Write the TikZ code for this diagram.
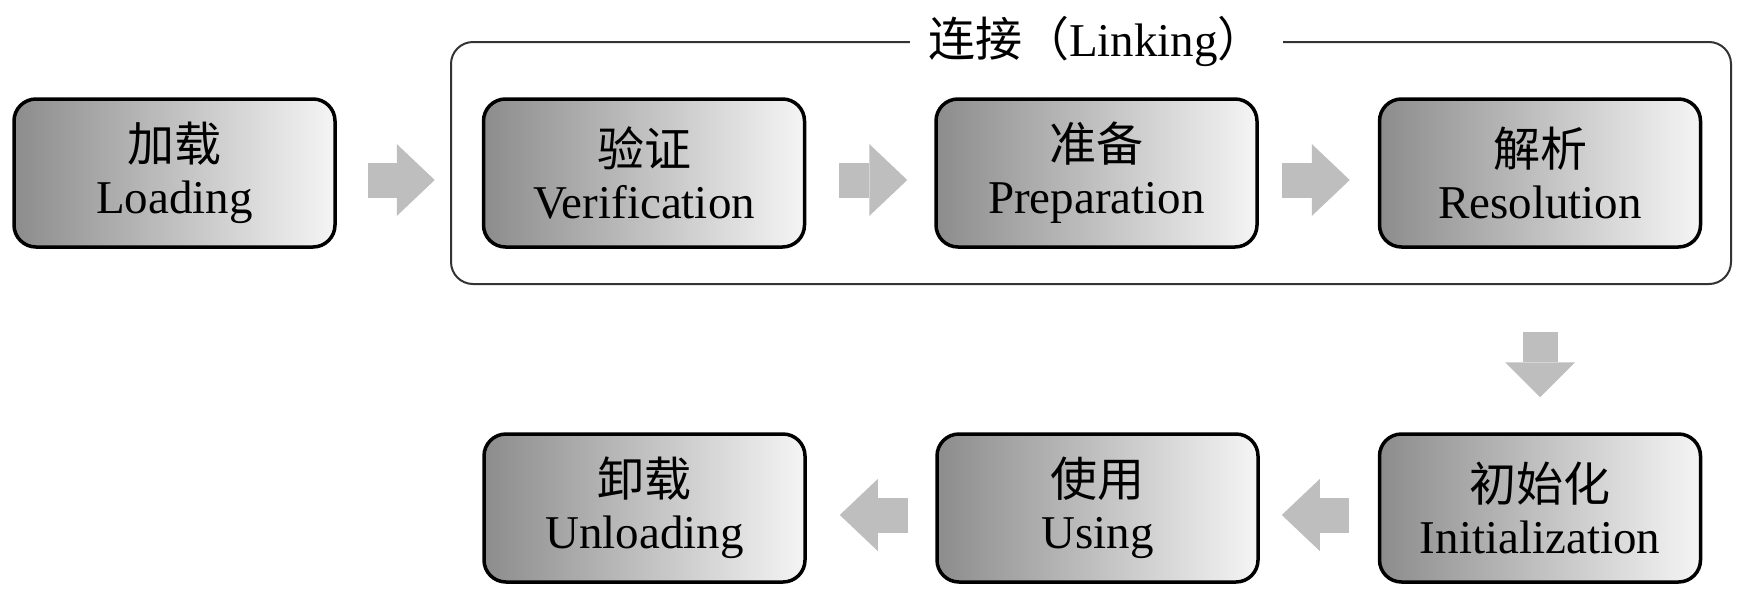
\documentclass[tikz,border=0pt]{standalone}
\usepackage{fontspec}
\setmainfont{Liberation Serif}
\newfontfamily\cjk{Noto Sans CJK SC}
\usetikzlibrary{positioning,arrows.meta,calc}
\definecolor{arrowgray}{HTML}{BEBEBE}

\begin{document}
\begin{tikzpicture}[x=1pt,y=-1pt,
  stage/.style={rectangle,draw=black,line width=3.5pt,rounded corners=22pt,left color=black!45,right color=black!4,minimum width=321pt,minimum height=148pt,inner sep=0pt,align=center,text=black,font=\fontsize{47}{52}\selectfont},
  linkframe/.style={rectangle,draw=black!80,line width=2pt,rounded corners=22pt,minimum width=1280pt,minimum height=242pt},
  linklab/.style={fill=white,inner xsep=18pt,inner ysep=2pt,text=black,font=\fontsize{47}{52}\selectfont},
  flow/.style={arrowgray,line width=35pt,-{Triangle[length=38pt,width=72pt,line width=0pt]}},
]
\useasboundingbox (0,0) rectangle (1740,603);

% Linking frame
\node[linkframe] (link) at (1091,163) {};

% Top row
\node[stage] (load) at (174.5,173) {{\cjk 加载}\\Loading};
\node[stage] (ver) at (644,173) {{\cjk 验证}\\Verification};
\node[stage] (prep) at (1096.5,173) {{\cjk 准备}\\Preparation};
\node[stage] (res) at (1540,173) {{\cjk 解析}\\Resolution};

% Bottom row
\node[stage] (unload) at (644.5,508) {{\cjk 卸载}\\Unloading};
\node[stage] (use) at (1097.5,508) {{\cjk 使用}\\Using};
\node[stage] (init) at (1540,508) {{\cjk 初始化}\\Initialization};

% Frame title
\node[linklab] (linktitle) at (prep |- link.north) {{\cjk 连接（}Linking{\cjk ）}};

% Arrows
\draw[flow,shorten <=31pt,shorten >=47pt] ([yshift=-7pt]load.east) -- ([yshift=-7pt]ver.west);
\draw[flow,shorten <=33pt,shorten >=27pt] ([yshift=-7pt]ver.east) -- ([yshift=-7pt]prep.west);
\draw[flow,shorten <=23pt,shorten >=28pt] ([yshift=-7pt]prep.east) -- ([yshift=-7pt]res.west);
\draw[flow,-{Triangle[length=35pt,width=70pt,line width=0pt]},shorten <=83pt,shorten >=35pt] (res.south) -- (init.north);
\draw[flow,shorten <=29pt,shorten >=22pt] ([yshift=-7pt]init.west) -- ([yshift=-7pt]use.east);
\draw[flow,shorten <=27pt,shorten >=33pt] ([yshift=-7pt]use.west) -- ([yshift=-7pt]unload.east);
\end{tikzpicture}
\end{document}
